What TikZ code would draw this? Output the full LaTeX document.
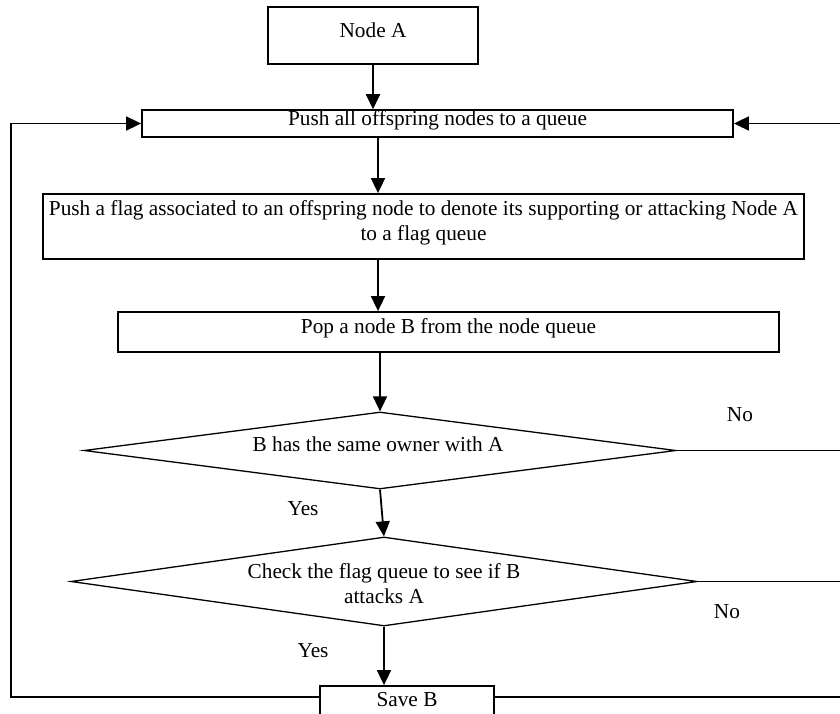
\documentclass[tikz,border=0pt]{standalone}
\usepackage{fontspec}
\setmainfont{Liberation Serif}
\usetikzlibrary{arrows.meta,shapes.geometric}

\begin{document}
\begin{tikzpicture}[x=1pt,y=-1pt,line width=1.8pt,>={Triangle[length=15pt,width=14pt]},
    every node/.style={font=\fontsize{21.3}{25}\selectfont},
    stage/.style={draw,rectangle,inner xsep=2pt,inner ysep=0pt,text depth=11.7pt,align=center},
    choice/.style={draw,diamond,inner sep=0pt,line width=1.3pt},
    word/.style={inner sep=0pt,align=center}]
  \useasboundingbox (0,0) rectangle (840,714);
  \path node[stage,minimum width=210pt,minimum height=57pt] (A) at (373,35.5) {Node A}
     node[stage,minimum width=591pt,minimum height=25pt] (push) at (437.5,123.5) {Push all offspring nodes to a queue}
     node[stage,minimum width=761pt,minimum height=65pt] (flag) at (423.5,226.5) {Push a flag associated to an offspring node to denote its supporting or attacking Node A\\ to a flag queue}
     node[stage,minimum width=661pt,minimum height=40pt] (pop) at (448.5,332) {Pop a node B from the node queue}
     node[choice,minimum width=592pt,minimum height=77pt] (same) at (380,450.5) {}
     node[choice,minimum width=626pt,minimum height=89pt] (check) at (384,581.5) {}
     node[stage,minimum width=174pt,minimum height=39pt] (saveB) at (407,705.5) {Save B};
  \path node[word] (sameText) at (378,444) {B has the same owner with A}
     node[word] (checkText) at (384,584) {Check the flag queue to see if B\\ attacks A}
     node[word] (noSame) at (740,415) {No}
     node[word] (yesSame) at (303,509) {Yes}
     node[word] (noCheck) at (727,612) {No}
     node[word] (yesCheck) at (313,651) {Yes};
  \path (378,0) coordinate (spine) (11,697) coordinate (loopL) (846,0) coordinate (loopR);
  % main line
  \draw[->] (A.south) -- (A.south |- push.north);
  \draw[->] (spine |- push.south) -- (spine |- flag.north);
  \draw[->] (spine |- flag.south) -- (spine |- pop.north);
  \draw[->] (same.north |- pop.south) -- (same.north);
  \draw[->] (same.south) -- (check.north);
  \draw[->] (check.south) -- (check.south |- saveB.north);
  % loops back
  \draw[->] (saveB.west |- loopL) -- (loopL) |- (push.west);
  \draw[->] (saveB.east |- loopL) -- (loopL -| loopR) |- (push.east);
  \draw (same.east) -- (same.east -| loopR);
  \draw (check.east) -- (check.east -| loopR);
\end{tikzpicture}
\end{document}
